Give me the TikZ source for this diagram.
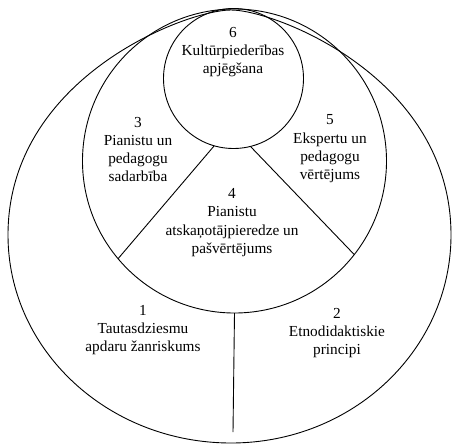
\documentclass[tikz,border=0pt]{standalone}
\usepackage{fontspec}
\setmainfont{Liberation Serif}
\begin{document}
\begin{tikzpicture}[x=1pt,y=-1pt,line width=0.9pt,
  ring/.style={draw,circle,inner sep=0pt,outer sep=0pt},
  txt/.style={align=center,inner sep=0pt,font=\fontsize{15.3}{18.3}\selectfont}]
\useasboundingbox (0,0) rectangle (452,445);
% outer egg-shaped boundary
\draw (8,235) .. controls (8,349.9) and (107.8,443) .. (231,443)
  .. controls (352.5,443) and (451,349.9) .. (451,235)
  .. controls (451,77.5) and (275,10) .. (231,10)
  .. controls (186.4,10) and (8,77.5) .. cycle;
% middle circle with sectors 3, 4, 5
\node[ring,minimum size=304pt] (mid) at (234.5,161) {};
% top circle 6
\node[ring,minimum size=140pt] (top) at (233.5,78.5) {};
% dividing lines
\draw (top.-106.5) -- (mid.-140);
\draw (top.-76) -- (mid.-38);
\coordinate (base) at (233,432);
\draw (mid.south) -- (base);
% labels
\node[txt] (t6) at (233,52) {6\\Kultūrpiederības\\apjēgšana};
\node[txt] (t3) at (138,149.5) {3\\Pianistu un\\pedagogu\\sadarbība};
\node[txt] (t5) at (330,149) {5\\Ekspertu un\\pedagogu\\vērtējums};
\node[txt] (t4) at (232,222.5) {4\\Pianistu\\atskaņotājpieredze un\\pašvērtējums};
\node[txt] (t1) at (143,330) {1\\Tautasdziesmu\\apdaru žanriskums};
\node[txt] (t2) at (337,333) {2\\Etnodidaktiskie\\principi};
\end{tikzpicture}
\end{document}
